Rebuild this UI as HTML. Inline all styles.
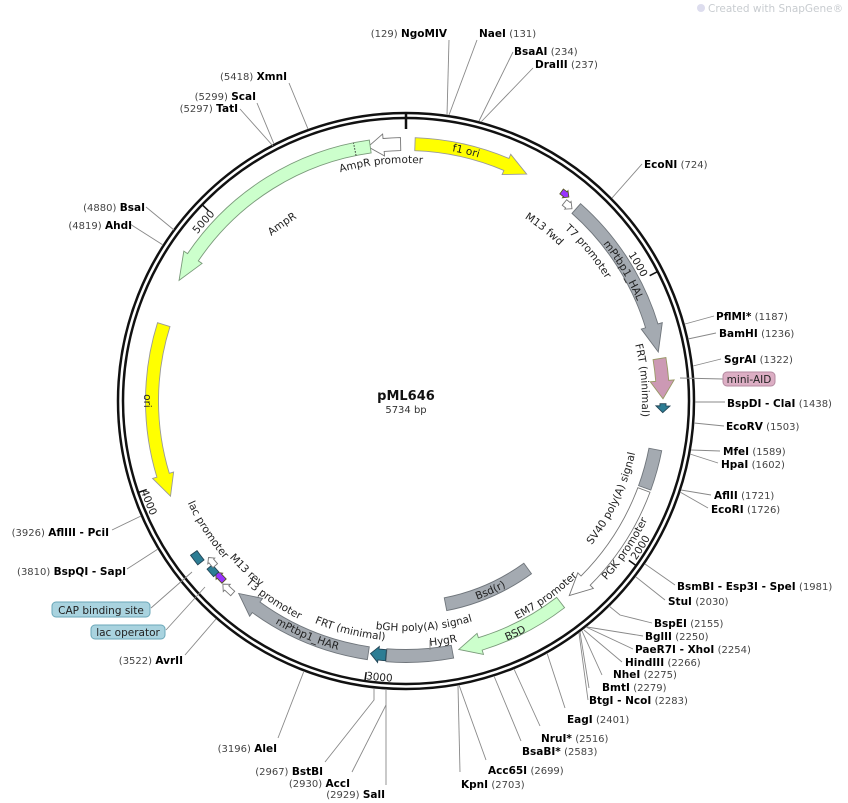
<!DOCTYPE html>
<html><head><meta charset="utf-8"><style>
html,body{margin:0;padding:0;background:#fff;}
svg{display:block;}
.f{font-family:"DejaVu Sans","Liberation Sans",sans-serif;font-size:10.5px;fill:#222;}
.e{font-family:"DejaVu Sans","Liberation Sans",sans-serif;font-size:10.5px;fill:#000;}
.e tspan.b{font-weight:bold;}
.e tspan.n{fill:#444;font-size:10px;}
.ln line,.ln polyline{stroke:#888;stroke-width:0.9;fill:none;}
</style></head><body>
<svg id="s" width="848" height="803" viewBox="0 0 848 803" xmlns="http://www.w3.org/2000/svg">
<defs id="d"></defs>
<text x="708" y="12" font-family="DejaVu Sans,Liberation Sans,sans-serif" font-size="10.5" fill="#c8ccd0">Created with SnapGene®</text>
<circle cx="701" cy="8" r="4" fill="#dde" />
<!-- ring -->
<circle cx="406" cy="401" r="288" fill="none" stroke="#111" stroke-width="2.5"/>
<circle cx="406" cy="401" r="283" fill="none" stroke="#111" stroke-width="2.5"/>
<line x1="406" y1="114" x2="406" y2="129" stroke="#111" stroke-width="2.5"/>
<g id="feat"></g>
<g id="ticks" stroke="#111" stroke-width="1.5"></g>
<!-- enzyme lines -->
<g class="ln">
<line x1="447" y1="115" x2="449" y2="40"/>
<line x1="449" y1="115" x2="477" y2="40"/>
<line x1="479" y1="121" x2="513" y2="52"/>
<line x1="481" y1="122" x2="533" y2="68"/>
<line x1="612" y1="198" x2="642" y2="164"/>
<line x1="685" y1="324" x2="714" y2="316"/>
<line x1="688" y1="339" x2="716" y2="333"/>
<line x1="693" y1="366" x2="721" y2="359"/>
<line x1="680" y1="378" x2="723" y2="379"/>
<line x1="695" y1="402" x2="725" y2="402"/>
<line x1="694" y1="423" x2="724" y2="426"/>
<line x1="691" y1="450" x2="720" y2="451"/>
<line x1="690" y1="454" x2="718" y2="463"/>
<line x1="681" y1="490" x2="711" y2="495"/>
<line x1="680" y1="492" x2="708" y2="508"/>
<line x1="645" y1="564" x2="675" y2="585"/>
<line x1="636" y1="577" x2="665" y2="600"/>
<polyline points="609,606 620,615 652,623"/>
<line x1="587" y1="627" x2="643" y2="636"/>
<line x1="586" y1="627" x2="633" y2="649"/>
<line x1="584" y1="630" x2="622" y2="662"/>
<line x1="582" y1="631" x2="602" y2="675"/>
<line x1="580" y1="632" x2="589" y2="688"/>
<line x1="579" y1="633" x2="588" y2="700"/>
<line x1="547" y1="653" x2="565" y2="708"/>
<line x1="514" y1="669" x2="540" y2="726"/>
<line x1="494" y1="676" x2="521" y2="741"/>
<line x1="459" y1="685" x2="486" y2="760"/>
<line x1="458" y1="686" x2="460" y2="772"/>
<line x1="386" y1="689" x2="386" y2="785"/>
<line x1="386" y1="705" x2="352" y2="772"/>
<polyline points="374,689 374,700 325,762"/>
<line x1="304" y1="671" x2="278" y2="738"/>
<line x1="216" y1="619" x2="185" y2="655"/>
<line x1="205" y1="587" x2="166" y2="630"/>
<line x1="192" y1="572" x2="151" y2="608"/>
<line x1="158" y1="549" x2="127" y2="569"/>
<line x1="141" y1="516" x2="112" y2="530"/>
<line x1="163" y1="245" x2="130" y2="224"/>
<line x1="174" y1="230" x2="146" y2="207"/>
<line x1="273" y1="146" x2="240" y2="109"/>
<line x1="274" y1="144" x2="257" y2="103"/>
<line x1="308" y1="129" x2="289" y2="83"/>
</g>
<!-- enzyme labels right -->
<g class="e">
<text x="447" y="37" text-anchor="end"><tspan class="n">(129)</tspan> <tspan class="b">NgoMIV</tspan></text>
<text x="479" y="37"><tspan class="b">NaeI</tspan> <tspan class="n">(131)</tspan></text>
<text x="514" y="55"><tspan class="b">BsaAI</tspan> <tspan class="n">(234)</tspan></text>
<text x="535" y="68"><tspan class="b">DraIII</tspan> <tspan class="n">(237)</tspan></text>
<text x="644" y="168"><tspan class="b">EcoNI</tspan> <tspan class="n">(724)</tspan></text>
<text x="716" y="320"><tspan class="b">PflMI*</tspan> <tspan class="n">(1187)</tspan></text>
<text x="719" y="337"><tspan class="b">BamHI</tspan> <tspan class="n">(1236)</tspan></text>
<text x="724" y="363"><tspan class="b">SgrAI</tspan> <tspan class="n">(1322)</tspan></text>
<text x="727" y="407"><tspan class="b">BspDI - ClaI</tspan> <tspan class="n">(1438)</tspan></text>
<text x="726" y="430"><tspan class="b">EcoRV</tspan> <tspan class="n">(1503)</tspan></text>
<text x="723" y="455"><tspan class="b">MfeI</tspan> <tspan class="n">(1589)</tspan></text>
<text x="721" y="468"><tspan class="b">HpaI</tspan> <tspan class="n">(1602)</tspan></text>
<text x="714" y="499"><tspan class="b">AflII</tspan> <tspan class="n">(1721)</tspan></text>
<text x="711" y="513"><tspan class="b">EcoRI</tspan> <tspan class="n">(1726)</tspan></text>
<text x="677" y="590"><tspan class="b">BsmBI - Esp3I - SpeI</tspan> <tspan class="n">(1981)</tspan></text>
<text x="668" y="605"><tspan class="b">StuI</tspan> <tspan class="n">(2030)</tspan></text>
<text x="654" y="627"><tspan class="b">BspEI</tspan> <tspan class="n">(2155)</tspan></text>
<text x="645" y="640"><tspan class="b">BglII</tspan> <tspan class="n">(2250)</tspan></text>
<text x="635" y="653"><tspan class="b">PaeR7I - XhoI</tspan> <tspan class="n">(2254)</tspan></text>
<text x="625" y="666"><tspan class="b">HindIII</tspan> <tspan class="n">(2266)</tspan></text>
<text x="613" y="678"><tspan class="b">NheI</tspan> <tspan class="n">(2275)</tspan></text>
<text x="602" y="691"><tspan class="b">BmtI</tspan> <tspan class="n">(2279)</tspan></text>
<text x="589" y="704"><tspan class="b">BtgI - NcoI</tspan> <tspan class="n">(2283)</tspan></text>
<text x="567" y="723"><tspan class="b">EagI</tspan> <tspan class="n">(2401)</tspan></text>
<text x="541" y="742"><tspan class="b">NruI*</tspan> <tspan class="n">(2516)</tspan></text>
<text x="522" y="755"><tspan class="b">BsaBI*</tspan> <tspan class="n">(2583)</tspan></text>
<text x="488" y="774"><tspan class="b">Acc65I</tspan> <tspan class="n">(2699)</tspan></text>
<text x="461" y="788"><tspan class="b">KpnI</tspan> <tspan class="n">(2703)</tspan></text>
<text x="385" y="798" text-anchor="end"><tspan class="n">(2929)</tspan> <tspan class="b">SalI</tspan></text>
<text x="350" y="787" text-anchor="end"><tspan class="n">(2930)</tspan> <tspan class="b">AccI</tspan></text>
<text x="323" y="775" text-anchor="end"><tspan class="n">(2967)</tspan> <tspan class="b">BstBI</tspan></text>
<text x="277" y="752" text-anchor="end"><tspan class="n">(3196)</tspan> <tspan class="b">AleI</tspan></text>
<text x="183" y="664" text-anchor="end"><tspan class="n">(3522)</tspan> <tspan class="b">AvrII</tspan></text>
<text x="126" y="575" text-anchor="end"><tspan class="n">(3810)</tspan> <tspan class="b">BspQI - SapI</tspan></text>
<text x="109" y="536" text-anchor="end"><tspan class="n">(3926)</tspan> <tspan class="b">AflIII - PciI</tspan></text>
<text x="132" y="229" text-anchor="end"><tspan class="n">(4819)</tspan> <tspan class="b">AhdI</tspan></text>
<text x="145" y="211" text-anchor="end"><tspan class="n">(4880)</tspan> <tspan class="b">BsaI</tspan></text>
<text x="238" y="112" text-anchor="end"><tspan class="n">(5297)</tspan> <tspan class="b">TatI</tspan></text>
<text x="256" y="100" text-anchor="end"><tspan class="n">(5299)</tspan> <tspan class="b">ScaI</tspan></text>
<text x="287" y="80" text-anchor="end"><tspan class="n">(5418)</tspan> <tspan class="b">XmnI</tspan></text>
</g>
<!-- boxed feature labels -->
<rect x="723" y="372" width="52" height="14" rx="4" fill="#dcaec4" stroke="#b48aa0"/>
<text class="f" x="749" y="383" text-anchor="middle">mini-AID</text>
<rect x="52" y="602" width="98" height="15" rx="4" fill="#a9d3df" stroke="#6aa7b8"/>
<text class="f" x="101" y="614" text-anchor="middle">CAP binding site</text>
<rect x="91" y="625" width="74" height="14" rx="4" fill="#a9d3df" stroke="#6aa7b8"/>
<text class="f" x="128" y="636" text-anchor="middle">lac operator</text>
<!-- center -->
<text x="406" y="400" text-anchor="middle" font-family="DejaVu Sans,Liberation Sans,sans-serif" font-weight="bold" font-size="13" fill="#111">pML646</text>
<text x="406" y="413" text-anchor="middle" font-family="DejaVu Sans,Liberation Sans,sans-serif" font-size="10" fill="#333">5734 bp</text>
<!-- curved labels -->
<g class="f">
<text><textPath href="#t1" startOffset="50%" text-anchor="middle">f1 ori</textPath></text>
<text><textPath href="#t2" startOffset="50%" text-anchor="middle">AmpR promoter</textPath></text>
<text><textPath href="#t3" startOffset="50%" text-anchor="middle">AmpR</textPath></text>
<text><textPath href="#t4" startOffset="50%" text-anchor="middle">ori</textPath></text>
<text><textPath href="#t5" startOffset="50%" text-anchor="middle">M13 fwd</textPath></text>
<text><textPath href="#t6" startOffset="50%" text-anchor="middle">T7 promoter</textPath></text>
<text><textPath href="#t7" startOffset="50%" text-anchor="middle">mPtbp1_HAL</textPath></text>
<text><textPath href="#t8" startOffset="50%" text-anchor="middle">FRT (minimal)</textPath></text>
<text><textPath href="#t9" startOffset="50%" text-anchor="middle">1000</textPath></text>
<text><textPath href="#t10" startOffset="50%" text-anchor="middle">5000</textPath></text>
<text><textPath href="#t11" startOffset="50%" text-anchor="middle">4000</textPath></text>
<text><textPath href="#t12" startOffset="50%" text-anchor="middle">3000</textPath></text>
<text><textPath href="#t13" startOffset="50%" text-anchor="middle">2000</textPath></text>
<text><textPath href="#t14" startOffset="50%" text-anchor="middle">SV40 poly(A) signal</textPath></text>
<text><textPath href="#t15" startOffset="50%" text-anchor="middle">PGK promoter</textPath></text>
<text><textPath href="#t16" startOffset="50%" text-anchor="middle">EM7 promoter</textPath></text>
<text><textPath href="#t17" startOffset="50%" text-anchor="middle">BSD</textPath></text>
<text><textPath href="#t18" startOffset="50%" text-anchor="middle">Bsd(r)</textPath></text>
<text><textPath href="#t19" startOffset="50%" text-anchor="middle">bGH poly(A) signal</textPath></text>
<text><textPath href="#t20" startOffset="50%" text-anchor="middle">HygR</textPath></text>
<text><textPath href="#t21" startOffset="50%" text-anchor="middle">FRT (minimal)</textPath></text>
<text><textPath href="#t22" startOffset="50%" text-anchor="middle">mPtbp1_HAR</textPath></text>
<text><textPath href="#t23" startOffset="50%" text-anchor="middle">T3 promoter</textPath></text>
<text><textPath href="#t24" startOffset="50%" text-anchor="middle">M13 rev</textPath></text>
<text><textPath href="#t25" startOffset="50%" text-anchor="middle">lac promoter</textPath></text>
</g>
<g class="ln"><line x1="430" y1="640" x2="430" y2="650"/></g>
</svg>
<script>
(function(){
var NS="http://www.w3.org/2000/svg",cx=406,cy=401;
function pt(r,a){a=a*Math.PI/180;return (cx+r*Math.sin(a)).toFixed(2)+","+(cy-r*Math.cos(a)).toFixed(2);}
function A(r,a,sw){return " A"+r+","+r+" 0 0 "+sw+" "+pt(r,a);}
function shape(r,w,a1,a2,dir,h,hw){
 var ro=r+w/2,ri=r-w/2,hro=r+hw/2,hri=r-hw/2,d;
 if(dir==0){d="M"+pt(ro,a1)+A(ro,a2,1)+" L"+pt(ri,a2)+A(ri,a1,0)+"Z";}
 else if(dir>0){var b=a2-h;d="M"+pt(ro,a1)+A(ro,b,1)+" L"+pt(hro,b)+" L"+pt(r,a2)+" L"+pt(hri,b)+" L"+pt(ri,b)+A(ri,a1,0)+"Z";}
 else{var b=a1+h;d="M"+pt(r,a1)+" L"+pt(hro,b)+" L"+pt(ro,b)+A(ro,a2,1)+" L"+pt(ri,a2)+A(ri,b,0)+" L"+pt(hri,b)+"Z";}
 return d;}
var G="#a4aab1",GS="#6f757b",Y="#ffff00",LG="#ccffcc",P="#cc99b4",T="#2d7d94",PU="#9933ff",W="#ffffff";
var F=[
[257,13,2,28,1,5,22,Y,"#999"],
[257,13,-8.5,-1.2,-1,3.5,22,W,"#777"],
[257,13,-62,-8,-1,6,22,LG,"#7a9a7a"],
[254,13,-112,-72.5,-1,5,22,Y,"#999"],
[254,7,38.6,40.8,1,1.2,10,W,"#777"],
[261,6,36.6,38.6,1,1,9,PU,"#552"],
[257,13,41.5,79,1,6,22,G,GS],
[257,13,80.5,89.5,1,4,24,P,"#996"],
[257,6,90.6,92.6,1,1.5,14,T,"#245"],
[254,13,101,110,0,0,0,G,GS],
[254,13,110.5,140,1,5,22,W,"#777"],
[254,13,142.5,168,1,5,22,LG,"#7a9a7a"],
[255,13,169.5,184.4,0,0,0,G,GS],
[255,11,184.5,188,1,1.8,16,T,"#245"],
[255,13,188.5,221,1,5,22,G,GS],
[207,13,144,169,0,0,0,G,GS],
[259,6,222,225,1,1.2,10,W,"#777"],
[256,6,225.3,228,1,1.2,9,PU,"#552"],
[257,7,227.6,229.8,0,0,0,T,"#245"],
[252,6,229.2,231.6,1,1,9,W,"#777"],
[261,8,231.8,234.4,0,0,0,T,"#245"]
];
var g=document.getElementById("feat");
F.forEach(function(f){var p=document.createElementNS(NS,"path");p.setAttribute("d",shape(f[0],f[1],f[2],f[3],f[4],f[5],f[6]));p.setAttribute("fill",f[7]);p.setAttribute("stroke",f[8]);p.setAttribute("stroke-width","0.9");g.appendChild(p);});
// dashed divider in AmpR
var dl=document.createElementNS(NS,"path");dl.setAttribute("d","M"+pt(250.5,-11.5)+" L"+pt(263.5,-11.5));dl.setAttribute("stroke","#333");dl.setAttribute("stroke-dasharray","1.5,1.5");g.appendChild(dl);
var tk=document.getElementById("ticks");
[1000,2000,3000,4000,5000].forEach(function(b){var a=b*360/5734;var l=document.createElementNS(NS,"path");l.setAttribute("d","M"+pt(283,a)+" L"+pt(274,a));tk.appendChild(l);});
// text paths: id, r, center, dir(1 cw, -1 ccw)
var T2=[
["t1",254,13.5,1],["t2",238,-6,1],["t3",213,-35,1],["t4",262,-90,-1],
["t5",218,38.8,1],["t6",234,50.6,1],["t7",252,59,1],["t8",236,85,1],
["t9",266,59.5,1],["t10",267,311.5,1],["t11",280,248.5,-1],["t12",281,185.5,-1],["t13",280,122,-1],
["t14",235,115.3,-1],["t15",269,124,-1],["t16",245,144.3,-1],["t17",260,154.8,-1],["t18",211,156,-1],
["t19",230,175.4,-1],["t20",246,171.2,-1],["t21",240,193.7,-1],["t22",258,202.9,-1],["t23",243,213.7,-1],
["t24",236,223.3,-1],["t25",241,237,-1]];
var d=document.getElementById("d");
T2.forEach(function(t){var p=document.createElementNS(NS,"path");p.setAttribute("id",t[0]);var r=t[1],c=t[2];
 var s=t[3]>0?"M"+pt(r,c-60)+" A"+r+","+r+" 0 0 1 "+pt(r,c+60):"M"+pt(r,c+60)+" A"+r+","+r+" 0 0 0 "+pt(r,c-60);
 p.setAttribute("d",s);d.appendChild(p);});
})();
</script>
</body></html>
